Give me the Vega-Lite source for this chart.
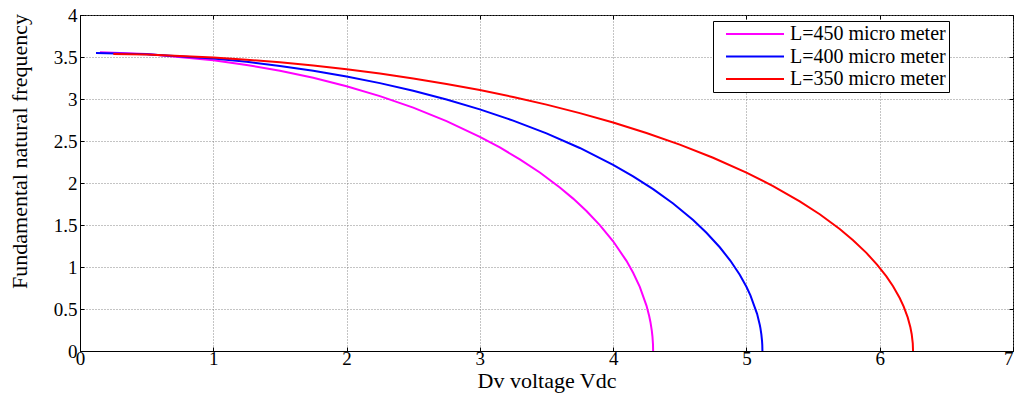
{
  "$schema": "https://vega.github.io/schema/vega-lite/v6.json",
  "width": 933,
  "height": 336,
  "autosize": "none",
  "padding": {"left": 80, "top": 15, "right": 3, "bottom": 47},
  "background": "white",
  "config": {
    "view": {"stroke": "black", "strokeWidth": 1},
    "font": "Liberation Serif"
  },
  "datasets": {
    "curves": [
      {"L": "L=450 micro meter", "V": 0.15, "f": 3.558},
      {"L": "L=450 micro meter", "V": 0.5, "f": 3.536},
      {"L": "L=450 micro meter", "V": 1.0, "f": 3.462},
      {"L": "L=450 micro meter", "V": 1.25, "f": 3.406},
      {"L": "L=450 micro meter", "V": 1.5, "f": 3.336},
      {"L": "L=450 micro meter", "V": 1.75, "f": 3.252},
      {"L": "L=450 micro meter", "V": 2.0, "f": 3.152},
      {"L": "L=450 micro meter", "V": 2.25, "f": 3.034},
      {"L": "L=450 micro meter", "V": 2.5, "f": 2.897},
      {"L": "L=450 micro meter", "V": 2.75, "f": 2.737},
      {"L": "L=450 micro meter", "V": 3.0, "f": 2.55},
      {"L": "L=450 micro meter", "V": 3.15, "f": 2.423},
      {"L": "L=450 micro meter", "V": 3.3, "f": 2.282},
      {"L": "L=450 micro meter", "V": 3.45, "f": 2.125},
      {"L": "L=450 micro meter", "V": 3.6, "f": 1.947},
      {"L": "L=450 micro meter", "V": 3.7, "f": 1.814},
      {"L": "L=450 micro meter", "V": 3.8, "f": 1.666},
      {"L": "L=450 micro meter", "V": 3.9, "f": 1.499},
      {"L": "L=450 micro meter", "V": 4.0, "f": 1.306},
      {"L": "L=450 micro meter", "V": 4.1, "f": 1.073},
      {"L": "L=450 micro meter", "V": 4.15, "f": 0.932},
      {"L": "L=450 micro meter", "V": 4.2, "f": 0.763},
      {"L": "L=450 micro meter", "V": 4.25, "f": 0.541},
      {"L": "L=450 micro meter", "V": 4.27, "f": 0.42},
      {"L": "L=450 micro meter", "V": 4.28, "f": 0.343},
      {"L": "L=450 micro meter", "V": 4.29, "f": 0.243},
      {"L": "L=450 micro meter", "V": 4.295, "f": 0.172},
      {"L": "L=450 micro meter", "V": 4.299, "f": 0.077},
      {"L": "L=450 micro meter", "V": 4.3, "f": 0.0},
      {"L": "L=400 micro meter", "V": 0.12, "f": 3.549},
      {"L": "L=400 micro meter", "V": 0.5, "f": 3.533},
      {"L": "L=400 micro meter", "V": 1.0, "f": 3.482},
      {"L": "L=400 micro meter", "V": 1.25, "f": 3.443},
      {"L": "L=400 micro meter", "V": 1.5, "f": 3.394},
      {"L": "L=400 micro meter", "V": 1.75, "f": 3.336},
      {"L": "L=400 micro meter", "V": 2.0, "f": 3.268},
      {"L": "L=400 micro meter", "V": 2.25, "f": 3.189},
      {"L": "L=400 micro meter", "V": 2.5, "f": 3.098},
      {"L": "L=400 micro meter", "V": 2.75, "f": 2.994},
      {"L": "L=400 micro meter", "V": 3.0, "f": 2.877},
      {"L": "L=400 micro meter", "V": 3.25, "f": 2.743},
      {"L": "L=400 micro meter", "V": 3.5, "f": 2.591},
      {"L": "L=400 micro meter", "V": 3.75, "f": 2.417},
      {"L": "L=400 micro meter", "V": 4.0, "f": 2.216},
      {"L": "L=400 micro meter", "V": 4.15, "f": 2.079},
      {"L": "L=400 micro meter", "V": 4.3, "f": 1.927},
      {"L": "L=400 micro meter", "V": 4.45, "f": 1.756},
      {"L": "L=400 micro meter", "V": 4.6, "f": 1.559},
      {"L": "L=400 micro meter", "V": 4.7, "f": 1.408},
      {"L": "L=400 micro meter", "V": 4.8, "f": 1.235},
      {"L": "L=400 micro meter", "V": 4.88, "f": 1.074},
      {"L": "L=400 micro meter", "V": 4.95, "f": 0.907},
      {"L": "L=400 micro meter", "V": 5.0, "f": 0.764},
      {"L": "L=400 micro meter", "V": 5.03, "f": 0.663},
      {"L": "L=400 micro meter", "V": 5.08, "f": 0.443},
      {"L": "L=400 micro meter", "V": 5.1, "f": 0.313},
      {"L": "L=400 micro meter", "V": 5.105, "f": 0.272},
      {"L": "L=400 micro meter", "V": 5.112, "f": 0.198},
      {"L": "L=400 micro meter", "V": 5.117, "f": 0.121},
      {"L": "L=400 micro meter", "V": 5.119, "f": 0.07},
      {"L": "L=400 micro meter", "V": 5.12, "f": 0.0},
      {"L": "L=350 micro meter", "V": 0.25, "f": 3.537},
      {"L": "L=350 micro meter", "V": 0.5, "f": 3.529},
      {"L": "L=350 micro meter", "V": 1.0, "f": 3.494},
      {"L": "L=350 micro meter", "V": 1.25, "f": 3.468},
      {"L": "L=350 micro meter", "V": 1.5, "f": 3.437},
      {"L": "L=350 micro meter", "V": 1.75, "f": 3.398},
      {"L": "L=350 micro meter", "V": 2.0, "f": 3.354},
      {"L": "L=350 micro meter", "V": 2.25, "f": 3.303},
      {"L": "L=350 micro meter", "V": 2.5, "f": 3.244},
      {"L": "L=350 micro meter", "V": 2.75, "f": 3.179},
      {"L": "L=350 micro meter", "V": 3.0, "f": 3.106},
      {"L": "L=350 micro meter", "V": 3.25, "f": 3.024},
      {"L": "L=350 micro meter", "V": 3.5, "f": 2.933},
      {"L": "L=350 micro meter", "V": 3.75, "f": 2.832},
      {"L": "L=350 micro meter", "V": 4.0, "f": 2.72},
      {"L": "L=350 micro meter", "V": 4.25, "f": 2.596},
      {"L": "L=350 micro meter", "V": 4.5, "f": 2.457},
      {"L": "L=350 micro meter", "V": 4.75, "f": 2.301},
      {"L": "L=350 micro meter", "V": 5.0, "f": 2.124},
      {"L": "L=350 micro meter", "V": 5.2, "f": 1.964},
      {"L": "L=350 micro meter", "V": 5.4, "f": 1.782},
      {"L": "L=350 micro meter", "V": 5.55, "f": 1.628},
      {"L": "L=350 micro meter", "V": 5.7, "f": 1.452},
      {"L": "L=350 micro meter", "V": 5.8, "f": 1.319},
      {"L": "L=350 micro meter", "V": 5.9, "f": 1.168},
      {"L": "L=350 micro meter", "V": 5.98, "f": 1.029},
      {"L": "L=350 micro meter", "V": 6.05, "f": 0.888},
      {"L": "L=350 micro meter", "V": 6.1, "f": 0.771},
      {"L": "L=350 micro meter", "V": 6.15, "f": 0.631},
      {"L": "L=350 micro meter", "V": 6.18, "f": 0.528},
      {"L": "L=350 micro meter", "V": 6.21, "f": 0.4},
      {"L": "L=350 micro meter", "V": 6.23, "f": 0.283},
      {"L": "L=350 micro meter", "V": 6.24, "f": 0.2},
      {"L": "L=350 micro meter", "V": 6.248, "f": 0.09},
      {"L": "L=350 micro meter", "V": 6.25, "f": 0.0}
    ]
  },
  "data": {"name": "curves"},
  "layer": [
    {
      "mark": {"type": "line", "strokeWidth": 2, "interpolate": "linear"},
      "encoding": {
        "x": {
          "field": "V", "type": "quantitative",
          "scale": {"domain": [0, 7], "nice": false, "zero": false},
          "axis": {
            "title": "Dv voltage Vdc",
            "titleFont": "Liberation Serif", "titleFontSize": 22, "titleFontWeight": "normal", "titleColor": "black",
            "titlePadding": 2,
            "values": [0, 1, 2, 3, 4, 5, 6, 7], "format": "d",
            "labelFont": "Liberation Serif", "labelFontSize": 19, "labelColor": "black",
            "labelPadding": 2, "labelFlush": false, "labelOverlap": false,
            "labelAlign": {"condition": {"test": "datum.value == 7", "value": "right"}, "value": "center"},
            "tickSize": -4, "tickColor": "black", "domainColor": "black",
            "grid": true, "gridColor": "#7a7a7a", "gridDash": [1, 2], "gridWidth": 0.9
          }
        },
        "y": {
          "field": "f", "type": "quantitative",
          "scale": {"domain": [0, 4], "nice": false, "zero": false},
          "axis": {
            "title": "Fundamental natural frequency",
            "titleFont": "Liberation Serif", "titleFontSize": 22, "titleFontWeight": "normal", "titleColor": "black",
            "titleX": -54, "titleY": 136, "titleBaseline": "alphabetic", "titleAngle": -90, "titleAlign": "center",
            "values": [0, 0.5, 1, 1.5, 2, 2.5, 3, 3.5, 4], "format": "~g",
            "labelFont": "Liberation Serif", "labelFontSize": 19, "labelColor": "black",
            "labelPadding": 7, "labelFlush": false, "labelOverlap": false,
            "tickSize": -4, "tickColor": "black", "domainColor": "black",
            "grid": true, "gridColor": "#7a7a7a", "gridDash": [1, 2], "gridWidth": 0.9
          }
        },
        "color": {
          "field": "L", "type": "nominal",
          "scale": {
            "domain": ["L=450 micro meter", "L=400 micro meter", "L=350 micro meter"],
            "range": ["#ff00ff", "#0000ff", "#ff0000"]
          },
          "legend": {
            "title": null, "orient": "none", "legendX": 633, "legendY": 6,
            "symbolType": "stroke", "symbolSize": 3364, "symbolStrokeWidth": 2, "clipHeight": 20,
            "symbolOffset": 9,
            "labelFont": "Liberation Serif", "labelFontSize": 20, "labelColor": "black",
            "labelOffset": 5, "labelLimit": 400,
            "strokeColor": "black", "fillColor": "white", "padding": 3, "rowPadding": 2.5
          }
        }
      }
    },
    {
      "mark": {"type": "line", "opacity": 0},
      "encoding": {
        "x": {
          "field": "V", "type": "quantitative",
          "axis": {"orient": "top", "title": null, "labels": false, "grid": false, "domain": false,
                   "values": [0, 1, 2, 3, 4, 5, 6, 7], "tickSize": -4, "tickColor": "black"}
        },
        "y": {
          "field": "f", "type": "quantitative",
          "axis": {"orient": "right", "title": null, "labels": false, "grid": false, "domain": false,
                   "values": [0, 0.5, 1, 1.5, 2, 2.5, 3, 3.5, 4], "tickSize": -4, "tickColor": "black"}
        },
        "detail": {"field": "L", "type": "nominal"}
      }
    }
  ],
  "resolve": {"axis": {"x": "independent", "y": "independent"}}
}
